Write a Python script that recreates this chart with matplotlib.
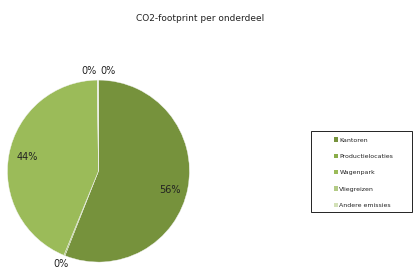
import numpy as np
import matplotlib
matplotlib.use("Agg")
import matplotlib.pyplot as plt
from matplotlib.patches import Patch, Rectangle

title = "CO2-footprint per onderdeel"
labels = ["Kantoren", "Productielocaties", "Wagenpark", "Vliegreizen", "Andere emissies"]
values = [56.0, 0.2, 43.6, 0.1, 0.1]
colors = ["#76923C", "#8AAD4A", "#9BBB59", "#B3CB86", "#D3E1B8"]

fig = plt.figure(figsize=(4.14, 2.8), dpi=100)
fig.text(0.483, 0.935, title, ha="center", va="center", fontsize=6.5, color="#222222")

ax = fig.add_axes([0.018, 0.064, 0.4396, 0.65])
wedges, _ = ax.pie(values, colors=colors, startangle=90, counterclock=False,
                   wedgeprops=dict(edgecolor="#f4f4f4", linewidth=0.3))
ax.set_xlim(-1, 1)
ax.set_ylim(-1, 1)
ax.axis("off")

total = sum(values)
for i, w in enumerate(wedges):
    pct = values[i] / total * 100
    mid = np.deg2rad((w.theta1 + w.theta2) / 2)
    r = 0.8 if pct > 5 else 1.1
    x, y = r * np.cos(mid), r * np.sin(mid)
    ha = "center"
    if i == 0:
        y -= 0.06  # excel nudges this one down a bit
    if i == 3:
        ha = "right"
        x = -0.02
    elif i == 4:
        ha = "left"
        x = 0.02
    ax.text(x, y, "%d%%" % round(pct), ha=ha, va="center", fontsize=7, color="#222222",
            clip_on=False)

# legend frame
fig.patches.append(Rectangle((0.751, 0.243), 0.244, 0.289, transform=fig.transFigure,
                             facecolor="none", edgecolor="black", linewidth=0.6))

handles = [Patch(facecolor=c, edgecolor="none") for c in colors]
leg = fig.legend(handles, labels, loc="upper left", bbox_to_anchor=(0.807, 0.509),
                 fontsize=4.5, frameon=False, handlelength=0.7,
                 handleheight=0.7, handletextpad=0.15, labelspacing=1.75,
                 borderpad=0, borderaxespad=0)
for t in leg.get_texts():
    t.set_color("#222222")

fig.savefig("out.png", dpi=100)
